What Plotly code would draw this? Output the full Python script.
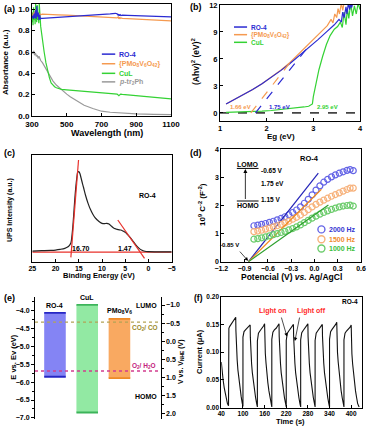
import plotly.graph_objects as go

W, H = 368, 431
FONT = "Liberation Sans"

# ---------------- (a) absorbance ----------------
wl_ro4 = [300,304,308,312,316,320,324,328,332,336,340,344,348,352,360,380,400,450,500,550,600,650,700,750,780,790,796,800,804,808,812,820,850,900,950,1000,1050,1100]
abs_ro4 = [0.92,0.94,0.91,0.96,0.92,0.99,0.91,1.03,0.93,0.97,0.90,0.95,0.91,0.915,0.915,0.917,0.918,0.923,0.93,0.935,0.94,0.947,0.953,0.958,0.963,0.958,0.945,0.955,0.94,0.95,0.942,0.945,0.943,0.94,0.938,0.936,0.933,0.93]
wl_pmo = [300,304,308,312,316,320,324,328,332,336,340,344,348,352,360,380,400,450,500,550,600,650,700,750,790,796,800,804,808,812,820,850,900,950,1000,1050,1100]
abs_pmo = [0.95,0.93,0.97,0.92,0.98,0.94,1.0,0.93,0.97,0.95,0.96,0.94,0.955,0.95,0.955,0.955,0.953,0.948,0.945,0.94,0.937,0.933,0.93,0.925,0.92,0.93,0.91,0.925,0.915,0.92,0.915,0.912,0.908,0.904,0.90,0.896,0.892]
wl_cul = [300,303,306,309,312,315,318,321,324,327,330,333,336,339,342,345,348,350,355,360,370,380,390,400,410,420,430,440,450,470,500,550,600,650,700,750,790,800,805,810,820,850,900,950,1000,1050,1100]
abs_cul = [0.88,0.97,0.85,1.02,0.90,0.95,0.86,1.05,0.92,0.88,1.04,0.90,0.96,0.87,1.05,0.93,0.86,0.84,0.78,0.70,0.60,0.50,0.42,0.36,0.31,0.29,0.275,0.265,0.26,0.25,0.245,0.238,0.232,0.226,0.22,0.212,0.205,0.19,0.20,0.205,0.203,0.198,0.19,0.182,0.174,0.167,0.16]
wl_ptr = [300,305,310,315,320,325,330,335,340,345,350,360,370,380,390,400,420,440,460,480,500,520,550,580,600,650,700,750,800,850,900,1000,1100]
abs_ptr = [0.60,0.59,0.61,0.57,0.59,0.56,0.57,0.54,0.56,0.53,0.52,0.50,0.47,0.44,0.41,0.38,0.33,0.29,0.26,0.23,0.205,0.18,0.15,0.12,0.10,0.07,0.045,0.035,0.028,0.024,0.02,0.016,0.013]

# ---------------- (b) Tauc plot ----------------
eg_ro4 = [1.13,1.3,1.5,1.7,1.9,2.1,2.3,2.5,2.7,2.9,3.1,3.3,3.45,3.55,3.6,3.63,3.66,3.7,3.72,3.75,3.78,3.8,3.82,3.85]
ahv_ro4 = [1.0,1.45,2.0,2.6,3.25,3.95,4.7,5.5,6.35,7.25,8.15,9.1,9.8,10.4,10.1,11.2,10.6,11.8,11.0,12.2,11.5,12.3,11.7,12.3]
eg_pmo = [1.13,1.3,1.5,1.7,1.9,2.1,2.3,2.5,2.7,2.9,3.0,3.1,3.2,3.3,3.38,3.42,3.46,3.5,3.53,3.56,3.6,3.63,3.66,3.7]
ahv_pmo = [1.0,1.45,2.0,2.6,3.25,3.95,4.75,5.6,6.6,7.6,8.2,8.6,9.1,9.7,10.4,10.0,11.0,10.6,11.6,11.0,12.2,11.4,12.3,12.3]
eg_cul = [1.13,1.3,1.5,1.7,1.9,2.1,2.3,2.5,2.6,2.7,2.8,2.9,2.95,2.98,3.0,3.03,3.07,3.12,3.2,3.28,3.36,3.45,3.52,3.58,3.62,3.66,3.7,3.73,3.76,3.8,3.84,3.88,3.92,3.96,4.0]
ahv_cul = [0.06,0.08,0.10,0.14,0.20,0.27,0.36,0.46,0.52,0.58,0.66,0.74,0.85,1.0,1.8,2.6,3.6,4.8,6.3,7.6,8.6,9.3,9.6,10.1,9.5,11.2,9.8,11.6,10.5,12.2,10.8,11.9,11.0,12.2,11.5]
tan_pmo_x = [1.66, 2.59]
tan_pmo_y = [0, 6.2]
tan_ro4_x = [1.76, 2.88]
tan_ro4_y = [0, 7.3]
gap_labels = ["1.66 eV", "1.75 eV", "2.95 eV"]

# ---------------- (c) UPS ----------------
be = [25,23,21,20,19,18,17.5,17,16.7,16.5,16.2,16.0,15.7,15.4,15.2,15.0,14.8,14.5,14.2,14.0,13.5,13.0,12.5,12.0,11.5,11.0,10.5,10.0,9.5,9.0,8.5,8.0,7.5,7.0,6.5,6.0,5.5,5.0,4.5,4.0,3.5,3.0,2.5,2.0,1.5,1.0,0.5,0,-2,-5]
ups = [3,4,5,6,8,11,14,20,27,45,90,130,185,225,240,241,237,222,205,195,168,146,128,114,103,96,90,86,85,86,84,78,72,69,67,66,63,59,52,45,36,27,18,11,6,3,1.5,1,0.5,0.5]
ups_tan1_x = [16.7, 15.05]
ups_tan1_y = [-16, 276]
ups_tan2_x = [6.6, 0.85]
ups_tan2_y = [96, -19]
ups_base_x = [25, -5]
ups_base_y = [0, 0]

# ---------------- (d) Mott-Schottky ----------------
pot = [-0.78,-0.73,-0.68,-0.63,-0.58,-0.53,-0.48,-0.43,-0.38,-0.33,-0.28,-0.23,-0.18,-0.13,-0.08,-0.03,0.02,0.07,0.12,0.17,0.22,0.27,0.32,0.37,0.42,0.46,0.50]
c2_2000 = [1.28,1.30,1.33,1.36,1.40,1.44,1.49,1.54,1.60,1.67,1.75,1.84,1.95,2.08,2.22,2.38,2.55,2.70,2.83,2.93,3.02,3.09,3.15,3.20,3.25,3.28,3.24]
c2_1500 = [1.07,1.09,1.12,1.16,1.20,1.24,1.28,1.33,1.38,1.44,1.51,1.58,1.66,1.75,1.85,1.95,2.04,2.12,2.19,2.26,2.33,2.39,2.45,2.51,2.57,2.62,2.62]
c2_1000 = [0.80,0.82,0.85,0.88,0.92,0.96,1.00,1.04,1.08,1.13,1.18,1.24,1.31,1.39,1.47,1.55,1.62,1.69,1.75,1.81,1.86,1.91,1.95,1.98,2.00,2.01,1.98]
fit_2000_x = [-0.85, 0.05]; fit_2000_y = [0, 3.15]
fit_1500_x = [-0.85, 0.09]; fit_1500_y = [0, 2.58]
fit_1000_x = [-0.85, 0.18]; fit_1000_y = [0, 2.02]
freq_labels = ["2000 Hz", "1500 Hz", "1000 Hz"]

# ---------------- (e) band diagram ----------------
band_names = ["RO-4", "CuL", "PMo<sub>8</sub>V<sub>6</sub>"]
band_lumo = [-4.06, -3.84, -4.23]
band_homo = [-5.85, -6.85, -5.89]
redox_names = ["CO<sub>2</sub>/ CO", "O<sub>2</sub>/ H<sub>2</sub>O"]
redox_v = [-0.53, 0.82]

# ---------------- (f) photocurrent ----------------
time_s = [40,42,45,48,51,54,57,60,
          60,61,63,67,72,77,80,80.5,81,82,84,86,89,92,95,98,100,
          100,101,103,107,112,117,120,120.5,121,122,124,126,129,132,135,138,140,
          140,141,143,147,152,157,160,160.5,161,162,164,166,169,172,175,178,180,
          180,181,183,187,192,197,200,200.5,201,202,204,206,209,212,215,218,220,
          220,221,223,227,232,237,240,240.5,241,242,244,246,249,252,255,258,260,
          260,261,263,267,272,277,280,280.5,281,282,284,286,289,292,295,298,300,
          300,301,303,307,312,317,320,320.5,321,322,324,326,329,332,335,338,340,
          340,341,343,347,352,357,360,360.5,361,362,364,366,369,372,375,378,380,
          380,381,383,387,392,397,400,400.5,401,402,404,406,409,412,415,418,422]
current_uA = [0.082,0.066,0.050,0.036,0.025,0.015,0.007,0.003,
              0.137,0.143,0.146,0.150,0.155,0.159,0.163,0.139,0.122,0.106,0.086,0.068,0.049,0.033,0.020,0.008,0.002,
              0.127,0.133,0.137,0.140,0.143,0.147,0.149,0.127,0.112,0.097,0.079,0.063,0.045,0.030,0.018,0.007,0.001,
              0.120,0.129,0.134,0.138,0.142,0.147,0.151,0.128,0.113,0.098,0.080,0.063,0.045,0.030,0.018,0.008,0.001,
              0.123,0.131,0.136,0.140,0.143,0.148,0.151,0.128,0.113,0.098,0.080,0.063,0.045,0.030,0.018,0.008,0.001,
              0.121,0.129,0.134,0.138,0.142,0.146,0.150,0.128,0.113,0.098,0.080,0.063,0.045,0.030,0.018,0.007,0.001,
              0.122,0.130,0.135,0.139,0.143,0.147,0.151,0.128,0.113,0.098,0.080,0.063,0.045,0.030,0.018,0.008,0.001,
              0.121,0.129,0.134,0.138,0.142,0.146,0.150,0.128,0.113,0.098,0.080,0.063,0.045,0.030,0.018,0.007,0.001,
              0.123,0.132,0.137,0.141,0.145,0.150,0.154,0.131,0.116,0.100,0.082,0.065,0.046,0.031,0.018,0.008,0.001,
              0.122,0.130,0.134,0.138,0.141,0.145,0.149,0.127,0.112,0.097,0.079,0.063,0.045,0.030,0.018,0.007,0.001]

# ---------------- colours ----------------
BLUE, ORANGE, GREEN, GRAY = "#2b2bd2", "#f59a50", "#34d234", "#9a9a9a"
RED = "#e8302a"

# ---------------- layout helpers ----------------
dom = {
    'a': (32, 171, 4, 116),
    'b': (220, 360, 5, 121),
    'c': (32.3, 171.7, 155, 261.7),
    'd': (221.3, 361, 149.3, 261.7),
    'e': (35, 160.7, 296.7, 419.3),
    'f': (221.3, 362, 296.7, 407.5),
}
def xd(k):
    l, r, t, b = dom[k]
    return [l / W, r / W]
def yd(k):
    l, r, t, b = dom[k]
    return [1 - b / H, 1 - t / H]

def TF(s):
    return dict(family=FONT, size=s, color="black", weight="bold")
def ax(fs=8, **kw):
    base = dict(showline=True, linecolor="black", linewidth=1, mirror=True,
                ticks="inside", ticklen=3, tickwidth=1, tickcolor="black",
                tickfont=TF(fs), showgrid=False, zeroline=False, automargin=False)
    base.update(kw)
    return base

ann = []
def A(text, x, y, xref="paper", yref="paper", size=8, color="black",
      xanchor="center", yanchor="middle", angle=0):
    if xref == "paper":
        x = x / W
    if yref == "paper":
        y = 1 - y / H
    ann.append(dict(text=text, x=x, y=y, xref=xref, yref=yref, showarrow=False,
                    font=dict(family=FONT, size=size, color=color, weight="bold"),
                    xanchor=xanchor, yanchor=yanchor, textangle=angle))

def arrow(x, y, axx, ayy, xr, yr, width=0.8, head=2):
    ann.append(dict(x=x, y=y, ax=axx, ay=ayy, xref=xr, yref=yr, axref=xr, ayref=yr,
                    showarrow=True, arrowhead=head, arrowsize=1, arrowwidth=width,
                    arrowcolor="black", text=" ", font=dict(size=1)))

shapes = []
def seg(x0, y0, x1, y1, xr, yr, color, width=1.2, dash="solid"):
    shapes.append(dict(type="line", x0=x0, y0=y0, x1=x1, y1=y1, xref=xr, yref=yr,
                       line=dict(color=color, width=width, dash=dash)))

fig = go.Figure()
def line(x, y, xa, ya, color, width=1.2, dash="solid", shape="linear"):
    fig.add_trace(go.Scatter(x=x, y=y, mode="lines", xaxis=xa, yaxis=ya,
                             line=dict(color=color, width=width, dash=dash, shape=shape),
                             showlegend=False, hoverinfo="skip"))

# ---- (a)
line(wl_ptr, abs_ptr, "x", "y", GRAY)
line(wl_cul, abs_cul, "x", "y", GREEN)
line(wl_pmo, abs_pmo, "x", "y", ORANGE)
line(wl_ro4, abs_ro4, "x", "y", BLUE)
leg_a = [("RO-4", BLUE, 0.58), ("{PMo<sub>8</sub>V<sub>6</sub>O<sub>42</sub>}", ORANGE, 0.49),
         ("CuL", GREEN, 0.40), ("<i>p</i>-tr<sub>2</sub>Ph", GRAY, 0.32)]
for txt, col, yy in leg_a:
    seg(702, yy, 779, yy, "x", "y", col, 1.5)
    A(txt, 790, yy, "x", "y", size=7, color=col, xanchor="left")

# ---- (b)
line([1, 4], [0, 0], "x2", "y2", "#444444", 1.6, "dash")
line(eg_cul, ahv_cul, "x2", "y2", GREEN)
line(eg_pmo, ahv_pmo, "x2", "y2", ORANGE)
line(eg_ro4, ahv_ro4, "x2", "y2", BLUE)
line(tan_pmo_x, tan_pmo_y, "x2", "y2", ORANGE, 1.2, "dash")
line(tan_ro4_x, tan_ro4_y, "x2", "y2", BLUE, 1.2, "dash")
leg_b = [("RO-4", BLUE, 9.55), ("{PMo<sub>8</sub>V<sub>6</sub>O<sub>42</sub>}", ORANGE, 8.7), ("CuL", GREEN, 7.85)]
for txt, col, yy in leg_b:
    seg(1.3, yy, 1.58, yy, "x2", "y2", col, 1.5)
    A(txt, 1.63, yy, "x2", "y2", size=6.5, color=col, xanchor="left")
A(gap_labels[0], 1.44, 0.65, "x2", "y2", size=6, color=ORANGE)
A(gap_labels[1], 2.27, 0.65, "x2", "y2", size=6, color=BLUE)
A(gap_labels[2], 3.30, 0.65, "x2", "y2", size=6, color=GREEN)

# ---- (c)
line(ups_base_x, ups_base_y, "x3", "y3", RED, 1.2)
line(be, ups, "x3", "y3", "#222222", 1.2, shape="spline")
line(ups_tan1_x, ups_tan1_y, "x3", "y3", RED, 1.2)
line(ups_tan2_x, ups_tan2_y, "x3", "y3", RED, 1.2)
A("16.70", 14.55, 12, "x3", "y3", size=7)
A("1.47", 4.96, 12, "x3", "y3", size=7)
A("RO-4", 0.27, 171, "x3", "y3", size=7)

# ---- (d)
MS = [(c2_2000, "#6464e6", fit_2000_x, fit_2000_y, "#2424b8", "#3434d0", 1.15),
      (c2_1500, "#f7b27c", fit_1500_x, fit_1500_y, "#f08a1e", "#f08c30", 0.80),
      (c2_1000, "#6ccc6c", fit_1000_x, fit_1000_y, "#2ea02e", "#3cc03c", 0.47)]
for (vals, mcol, fx, fy, lcol, tcol, ly), lab in zip(MS, freq_labels):
    fig.add_trace(go.Scatter(x=pot, y=vals, mode="markers", xaxis="x4", yaxis="y4",
                             marker=dict(symbol="circle-open", size=6, color=mcol, line=dict(width=1.2)),
                             showlegend=False, hoverinfo="skip"))
    line(fx, fy, "x4", "y4", lcol, 1.2)
    fig.add_trace(go.Scatter(x=[0.09], y=[ly], mode="markers", xaxis="x4", yaxis="y4",
                             marker=dict(symbol="circle-open", size=7, color=mcol, line=dict(width=1.4)),
                             showlegend=False, hoverinfo="skip"))
    A(lab, 0.165, ly, "x4", "y4", size=7, color=tcol, xanchor="left")
seg(-1.0, 3.32, -0.72, 3.32, "x4", "y4", "black", 1)
seg(-1.0, 2.16, -0.72, 2.16, "x4", "y4", "black", 1)
arrow(-0.89, 3.30, -0.89, 2.16, "x4", "y4", 0.8, 2)
A("LOMO", -0.86, 3.46, "x4", "y4", size=7)
A("HOMO", -0.86, 2.0, "x4", "y4", size=7)
A("-0.65 V", -0.71, 3.26, "x4", "y4", size=6.5, xanchor="left")
A("1.75 eV", -0.71, 2.79, "x4", "y4", size=6.5, xanchor="left")
A("1.15 V", -0.71, 2.2, "x4", "y4", size=6.5, xanchor="left")
A("RO-4", -0.07, 3.68, "x4", "y4", size=7.5)
A("-0.85 V", -1.09, 0.58, "x4", "y4", size=6)
arrow(-0.855, 0.03, -0.98, 0.42, "x4", "y4", 0.7, 2)

# ---- (e)
band_fill = ["rgba(110,110,242,0.85)", "rgba(140,232,158,0.95)", "rgba(249,164,88,0.95)"]
band_edge = ["#2626c4", "#3cb45a", "#ee8a26"]
idx = list(range(len(band_names)))
fig.add_trace(go.Bar(x=idx, y=[t - b for t, b in zip(band_lumo, band_homo)], base=band_homo,
                     width=0.67, marker=dict(color=band_fill, line=dict(width=0)),
                     xaxis="x5", yaxis="y5", showlegend=False, hoverinfo="skip"))
for i in idx:
    line([i - 0.335, i + 0.335], [band_lumo[i], band_lumo[i]], "x5", "y5", band_edge[i], 1.8)
    line([i - 0.335, i + 0.335], [band_homo[i], band_homo[i]], "x5", "y5", band_edge[i], 1.8)
    A(band_names[i], i, band_lumo[i] + 0.04, "x5", "y5", size=7, yanchor="bottom")
redox_col = ["#b3a356", "#d23c8e"]
for v, col in zip(redox_v, redox_col):
    line([-0.62, 3.28], [v, v], "x5", "y7", col, 1.4, "dot")
A(redox_names[0], 160, 327.5, size=6.5, color="#9c8a2a", xanchor="right")
A(redox_names[1], 158, 366, size=6.5, color="#c4207c", xanchor="right")
A("LUMO", 158.5, 305, size=7, xanchor="right")
A("HOMO", 158.5, 396, size=7, xanchor="right")

# ---- (f)
line(time_s, current_uA, "x6", "y6", "#111111", 1.1)
A("RO-4", 396, 0.191, "x6", "y6", size=6.5)
A("Light on", 183, 0.1747, "x6", "y6", size=7, color="#ff2a2a")
A("Light off", 289, 0.1747, "x6", "y6", size=7, color="#ff2a2a")
arrow(222, 0.128, 205, 0.166, "x6", "y6", 0.7, 2)
arrow(244, 0.12, 258, 0.166, "x6", "y6", 0.7, 2)

# ---- axis titles & panel letters
A("Absortance (a.u.)", 6, 62, size=8, angle=-90)
A("Wavelength (nm)", 107, 133, size=9)
A("(Ahv)<sup>2</sup> (eV)<sup>2</sup>", 196, 62, size=8.5, angle=-90)
A("Eg (eV)", 281, 136, size=8)
A("UPS Intensity (a.u.)", 10, 210, size=7, angle=-90)
A("Binding Energy (eV)", 99, 275, size=7.5)
A("10<sup>9</sup> C<sup>-2</sup> (F<sup>-2</sup>)", 202, 205, size=8, angle=-90)
A("Potencial (V) <i>vs.</i> Ag/AgCl", 291.5, 277, size=8.5)
A("E vs. Ev (eV)", 12.7, 357, size=7.5, angle=-90)
A("V vs. V<sub>NHE</sub> (V)", 181, 362, size=7, angle=-90)
A("Current (μA)", 199, 352, size=7.5, angle=-90)
A("Time (s)", 290, 421, size=7.5)
A("(a)", 2, 9, size=9, xanchor="left")
A("(b)", 188, 7, size=9, xanchor="left")
A("(c)", 2, 153, size=9, xanchor="left")
A("(d)", 188, 153, size=9, xanchor="left")
A("(e)", 2, 298, size=9, xanchor="left")
A("(f)", 205, 298, size=8.5, xanchor="right")

MINOR_E = dict(ticks="outside", ticklen=2, tickwidth=1, tickcolor="black", dtick=0.25)

fig.update_layout(
    width=W, height=H, autosize=False,
    margin=dict(l=0, r=0, t=0, b=0, pad=0),
    paper_bgcolor="white", plot_bgcolor="white",
    font=dict(family=FONT, size=8, color="black", weight="bold"),
    showlegend=False, bargap=0.33,
    xaxis=ax(8, domain=xd('a'), anchor="y", range=[300, 1100], tickvals=[300, 500, 700, 900, 1100]),
    yaxis=ax(8, domain=yd('a'), anchor="x", range=[0, 1.05], tickvals=[0, 0.2, 0.4, 0.6, 0.8, 1.0], tickformat=".1f"),
    xaxis2=ax(7.5, domain=xd('b'), anchor="y2", range=[1, 4], tickvals=[1, 2, 3, 4]),
    yaxis2=ax(7.5, domain=yd('b'), anchor="x2", range=[-0.9, 12], tickvals=[0, 3, 6, 9, 12]),
    xaxis3=ax(7, domain=xd('c'), anchor="y3", range=[25, -5], tickvals=[25, 20, 15, 10, 5, 0, -5]),
    yaxis3=ax(7, domain=yd('c'), anchor="x3", range=[-29, 291], showticklabels=False, ticks=""),
    xaxis4=ax(7, domain=xd('d'), anchor="y4", range=[-1.2, 0.6], tickvals=[-1.2, -0.9, -0.6, -0.3, 0.0, 0.3, 0.6], tickformat=".1f"),
    yaxis4=ax(7, domain=yd('d'), anchor="x4", range=[0, 4], tickvals=[0, 1, 2, 3, 4]),
    xaxis5=dict(domain=xd('e'), anchor="y5", range=[-0.62, 3.28], visible=False, automargin=False),
    yaxis5=ax(7, domain=yd('e'), anchor="x5", range=[-7.04, -3.61], mirror=False, ticks="outside",
              tickmode="linear", tick0=-7.0, dtick=0.5, tickformat=".1f", minor=MINOR_E),
    yaxis7=ax(7, overlaying="y5", anchor="x5", side="right", range=[2.15, -1.23], mirror=False, ticks="outside",
              tickmode="linear", tick0=-1.0, dtick=0.5, tickformat=".1f", minor=MINOR_E),
    xaxis6=ax(6.5, domain=xd('f'), anchor="y6", range=[40, 430], tickvals=[40, 100, 160, 220, 280, 340, 400]),
    yaxis6=ax(6.5, domain=yd('f'), anchor="x6", range=[0, 0.2], tickvals=[0, 0.05, 0.10, 0.15, 0.20], tickformat=".2f"),
    annotations=ann, shapes=shapes,
)

fig.write_html("out.html", config={"displayModeBar": False, "staticPlot": True},
               post_script="document.body.style.margin='0';document.body.style.overflow='hidden';")
